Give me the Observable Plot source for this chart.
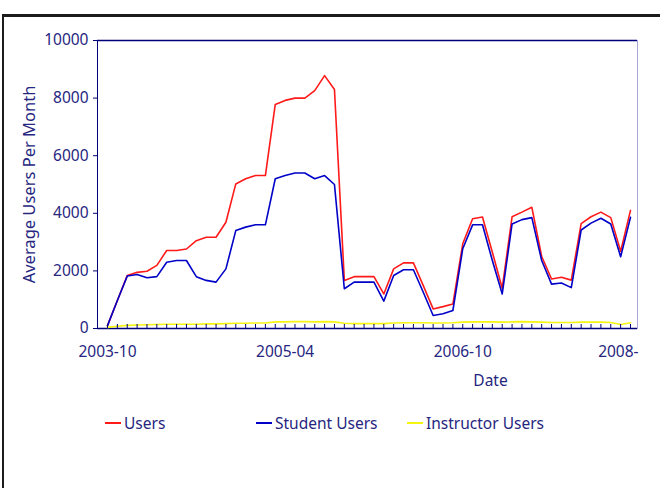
<!DOCTYPE html>
<html>
<head>
<meta charset="utf-8">
<script src="https://cdn.jsdelivr.net/npm/d3@7"></script>
<script src="https://cdn.jsdelivr.net/npm/@observablehq/plot@0.6"></script>
<style>
  html, body { margin: 0; padding: 0; background: #fff; width: 660px; height: 488px; overflow: hidden; }
  #frame { position: absolute; left: 2px; top: 14px; width: 800px; height: 600px;
           border-top: 3px solid #1c1c1c; border-left: 2px solid #1c1c1c; }
  #chart { position: absolute; left: 0; top: 0; width: 660px; }
  #legend { margin-top: 8px; height: 20px; padding-left: 105px; display: flex; align-items: center;
            font-family: 'Noto Sans', sans-serif; font-size: 15.5px; color: #262680; }
  #legend .item { width: 151px; display: flex; align-items: center; white-space: nowrap; }
  #legend .sw { width: 16px; height: 2.5px; margin-right: 3px; }
</style>
</head>
<body>
<div id="frame"></div>
<div id="chart"></div>
<script>
// Series names and colours
const seriesNames = ["Users", "Student Users", "Instructor Users"];
const seriesColors = ["#ff1a1a", "#0000c8", "#f5f510"];

// Monthly averages, one value per month from 2003-10 (index 0) to 2008-03 (index 53)
const users = [100, 970, 1840, 1950, 1990, 2190, 2710, 2710, 2760, 3050,
  3170, 3170, 3690, 5020, 5200, 5310, 5310, 7780, 7920, 8000,
  8000, 8260, 8780, 8300, 1670, 1800, 1800, 1800, 1200, 2070,
  2280, 2280, 1490, 680, 760, 850, 2940, 3810, 3870, 2650,
  1400, 3880, 4040, 4210, 2500, 1720, 1780, 1680, 3640, 3880,
  4040, 3850, 2680, 4100];
const studentUsers = [100, 970, 1820, 1875, 1760, 1800, 2300, 2360, 2360, 1800,
  1670, 1610, 2070, 3400, 3520, 3600, 3600, 5200, 5310, 5400,
  5400, 5200, 5310, 5000, 1380, 1610, 1610, 1610, 950, 1840,
  2040, 2040, 1260, 450, 510, 625, 2770, 3600, 3600, 2360,
  1200, 3630, 3780, 3850, 2360, 1540, 1580, 1420, 3420, 3660,
  3830, 3630, 2490, 3860];
const instructorUsers = [40, 80, 110, 120, 130, 140, 150, 150, 150, 150,
  160, 160, 170, 180, 180, 190, 190, 230, 230, 240,
  240, 230, 240, 230, 180, 170, 170, 170, 170, 190,
  200, 200, 200, 190, 190, 200, 220, 230, 230, 230,
  220, 230, 240, 230, 220, 210, 210, 210, 220, 220,
  220, 210, 140, 200];

// Axis tick labels (month offsets from 2003-10)
const xTickIndex = [0, 18, 36];
const xTickLabels = ["2003-10", "2005-04", "2006-10"];
const xLastTickIndex = [54];
const xLastTickLabel = "2008-";
const yTicks = [0, 2000, 4000, 6000, 8000, 10000];

const textColor = "#262680";
const navy = "#00007a";

const seriesValues = [users, studentUsers, instructorUsers];
const rows = [];
seriesValues.forEach((vals, s) => vals.forEach((v, i) => rows.push({i, v, name: seriesNames[s]})));
const monthIndex = users.map((_, i) => i);
const labelOf = new Map(xTickIndex.map((d, k) => [d, xTickLabels[k]]));

const chart = Plot.plot({
  width: 660,
  height: 405,
  marginLeft: 97,
  marginRight: 23,
  marginTop: 40,
  marginBottom: 77,
  style: {fontFamily: "'Noto Sans', sans-serif", fontSize: "15.5px", color: textColor, background: "transparent"},
  x: {type: "linear", domain: [0, monthIndex.length - 1], insetLeft: 10, insetRight: 7},
  y: {domain: [0, 10000]},
  color: {domain: seriesNames, range: seriesColors},
  marks: [
    Plot.frame({stroke: "#a8a8d8"}),
    Plot.ruleY([0, 10000], {stroke: navy, strokeWidth: 1.6}),
    Plot.ruleX([0], {stroke: navy, dx: -10}),
    Plot.line(rows, {x: "i", y: "v", z: "name", stroke: "name", strokeWidth: 1.6}),
    Plot.axisY({ticks: yTicks, tickSize: 4, tickPadding: 5, tickFormat: d => String(d), label: null, stroke: navy}),
    Plot.axisX({ticks: monthIndex, tickSize: 4, dy: -4, tickFormat: () => "", label: null, stroke: navy}),
    Plot.axisX({ticks: xTickIndex, tickSize: 0, tickPadding: 17, tickFormat: d => labelOf.get(d), label: null}),
    Plot.axisX({ticks: xLastTickIndex, tickSize: 0, tickPadding: 17, tickFormat: () => xLastTickLabel, dx: -22, label: null}),
    Plot.text(["Date"], {frameAnchor: "bottom", dx: 123, dy: 57, fill: textColor}),
    Plot.text(["Average Users Per Month"], {frameAnchor: "left", textAnchor: "middle", rotate: -90, dx: -68, fontSize: 16.5, fill: textColor})
  ]
});
const holder = document.getElementById("chart");
holder.appendChild(chart);

const legend = document.createElement("div");
legend.id = "legend";
seriesNames.forEach((name, k) => {
  const item = document.createElement("div");
  item.className = "item";
  const sw = document.createElement("span");
  sw.className = "sw";
  sw.style.background = seriesColors[k];
  const label = document.createElement("span");
  label.textContent = name;
  item.appendChild(sw);
  item.appendChild(label);
  legend.appendChild(item);
});
holder.appendChild(legend);
</script>
</body>
</html>
